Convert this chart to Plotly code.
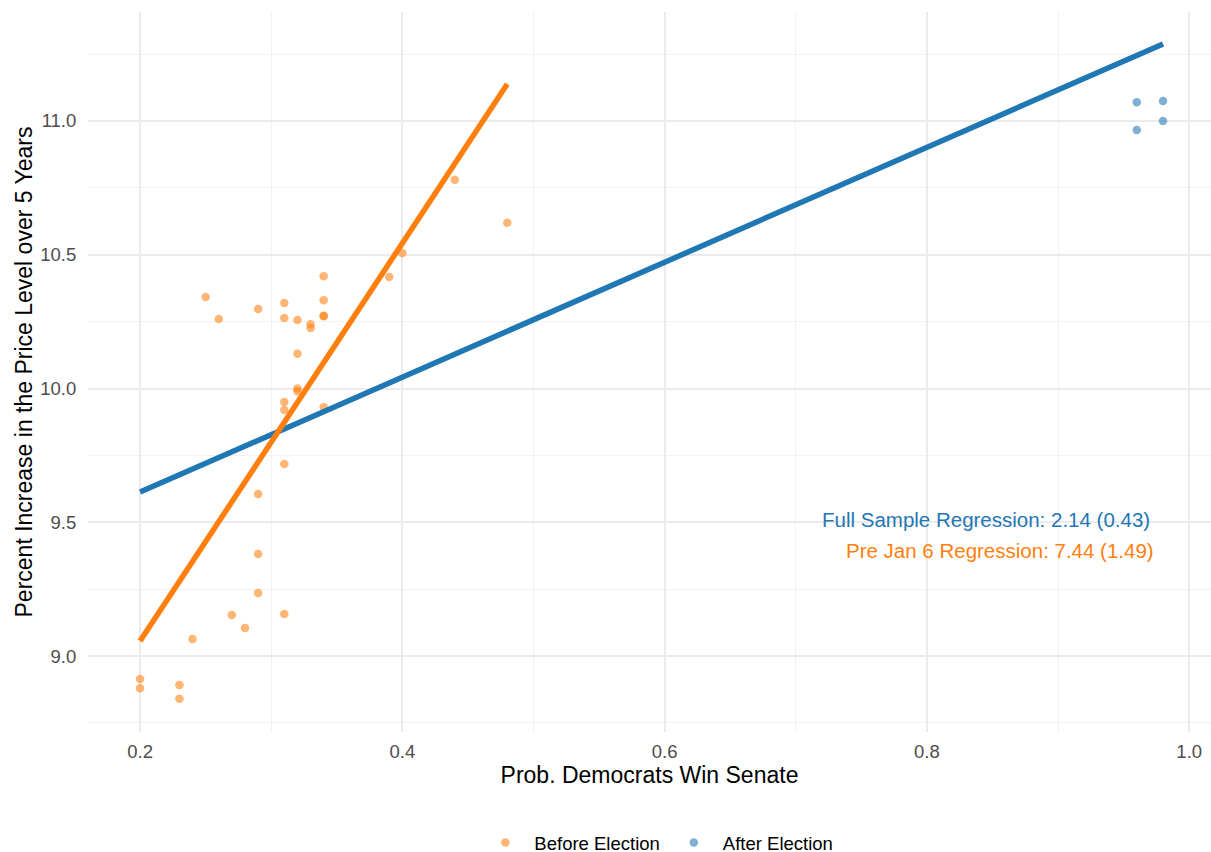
import plotly.graph_objects as go

# Data
before_x = [0.25, 0.26, 0.29, 0.31, 0.31, 0.32, 0.33, 0.33, 0.34, 0.34, 0.34, 0.34,
            0.39, 0.32, 0.32, 0.32, 0.31, 0.31, 0.34, 0.40, 0.44, 0.48, 0.31, 0.29,
            0.29, 0.29, 0.27, 0.28, 0.31, 0.24, 0.20, 0.20, 0.23, 0.23]
before_y = [10.342, 10.26, 10.297, 10.32, 10.264, 10.256, 10.24, 10.226, 10.42, 10.33, 10.27, 10.272,
            10.417, 10.13, 10.0, 9.99, 9.95, 9.92, 9.93, 10.507, 10.78, 10.62, 9.718, 9.606,
            9.381, 9.236, 9.153, 9.105, 9.157, 9.064, 8.914, 8.88, 8.892, 8.84]

after_x = [0.96, 0.96, 0.98, 0.98]
after_y = [11.07, 10.966, 11.075, 11.0]

full_fit_x = [0.20, 0.98]
full_fit_y = [9.613, 11.288]
pre_fit_x = [0.20, 0.48]
pre_fit_y = [9.056, 11.138]

full_label = "Full Sample Regression: 2.14 (0.43)"
pre_label = "Pre Jan 6 Regression: 7.44 (1.49)"

BLUE = "#1F77B4"
ORANGE = "#FF7F0E"
FONT = "Liberation Sans, Arial, sans-serif"

fig = go.Figure()
fig.add_trace(go.Scatter(x=before_x, y=before_y, mode="markers", name="Before Election",
                         marker=dict(color=ORANGE, size=8.5, opacity=0.58, line=dict(width=0))))
fig.add_trace(go.Scatter(x=after_x, y=after_y, mode="markers", name="After Election",
                         marker=dict(color=BLUE, size=8.5, opacity=0.58, line=dict(width=0))))
fig.add_trace(go.Scatter(x=full_fit_x, y=full_fit_y, mode="lines", showlegend=False,
                         line=dict(color=BLUE, width=5.5), hoverinfo="skip"))
fig.add_trace(go.Scatter(x=pre_fit_x, y=pre_fit_y, mode="lines", showlegend=False,
                         line=dict(color=ORANGE, width=5.5), hoverinfo="skip"))

fig.add_annotation(x=0.9715, y=9.512, text=full_label, showarrow=False, xanchor="right",
                   yanchor="middle", font=dict(color=BLUE, size=20.5, family=FONT))
fig.add_annotation(x=0.9747, y=9.396, text=pre_label, showarrow=False, xanchor="right",
                   yanchor="middle", font=dict(color=ORANGE, size=20.5, family=FONT))

# Figure is a bit taller than the window so the legend does not push the plot margin;
# the visible 852 px match the reference.
fig.update_layout(
    width=1211, height=880,
    margin=dict(l=88, r=0, t=12, b=148),
    paper_bgcolor="white", plot_bgcolor="white",
    font=dict(family=FONT, color="#000000"),
    showlegend=True,
    legend=dict(orientation="h", x=0.507, xanchor="center", y=-0.154, yanchor="middle",
                font=dict(size=18.5, family=FONT, color="#000000"), itemwidth=48),
    xaxis=dict(range=[0.1603, 1.0166], tickvals=[0.2, 0.4, 0.6, 0.8, 1.0],
               ticktext=["0.2", "0.4", "0.6", "0.8", "1.0"],
               showgrid=True, gridcolor="#EBEBEB", gridwidth=1.5,
               minor=dict(tickvals=[0.3, 0.5, 0.7, 0.9], showgrid=True, gridcolor="#F2F2F2", gridwidth=1),
               zeroline=False, showline=False,
               ticks="outside", ticklen=3, tickcolor="rgba(0,0,0,0)",
               tickfont=dict(size=18.5, color="#4D4D4D", family=FONT),
               title=dict(text="Prob. Democrats Win Senate", font=dict(size=23, family=FONT, color="#000000"),
                          standoff=0),
               automargin=False),
    yaxis=dict(range=[8.716, 11.4075], tickvals=[9.0, 9.5, 10.0, 10.5, 11.0],
               ticktext=["9.0", "9.5", "10.0", "10.5", "11.0"],
               showgrid=True, gridcolor="#EBEBEB", gridwidth=1.5,
               minor=dict(tickvals=[8.75, 9.25, 9.75, 10.25, 10.75, 11.25], showgrid=True,
                          gridcolor="#F2F2F2", gridwidth=1),
               zeroline=False, showline=False,
               ticks="outside", ticklen=7, tickcolor="rgba(0,0,0,0)",
               tickfont=dict(size=18.5, color="#4D4D4D", family=FONT),
               title=dict(text="Percent Increase in the Price Level over 5 Years",
                          font=dict(size=23, family=FONT, color="#000000"), standoff=1),
               automargin=False),
)

post = ("document.body.style.margin='0';document.body.style.padding='0';"
        "document.body.style.overflow='hidden';")

fig.write_html("out.html", post_script=post, config={"displayModeBar": False})
